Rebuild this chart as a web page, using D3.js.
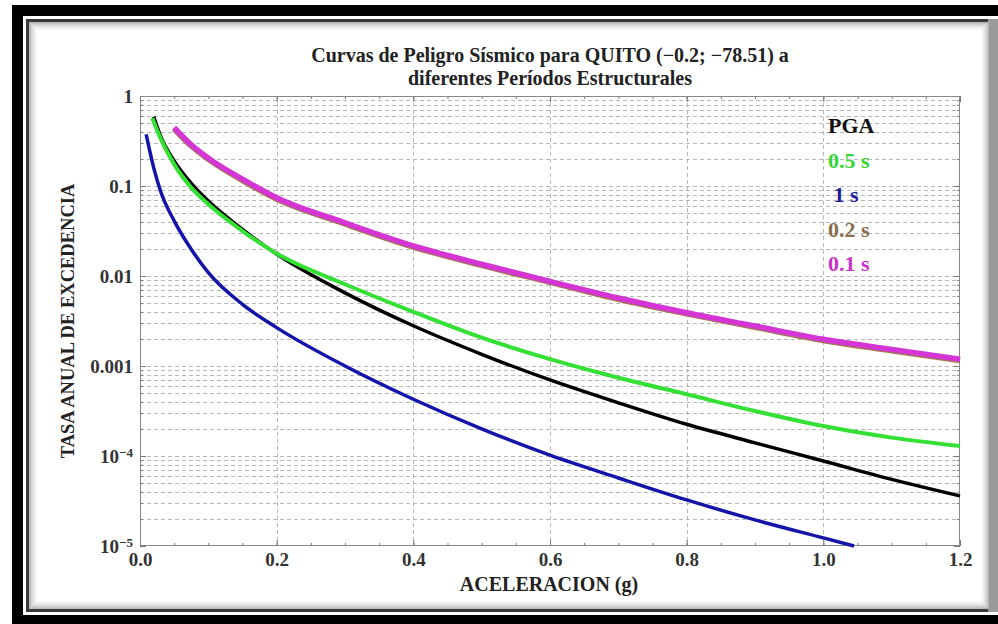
<!DOCTYPE html>
<html>
<head>
<meta charset="utf-8">
<script src="https://cdn.jsdelivr.net/npm/d3@7"></script>
<style>
	body { margin: 0; background: #fff; }
	svg { display: block; }
	text { font-family: "Liberation Serif", "Times New Roman", serif; font-weight: bold; }
	.axis path.domain { display: none; }
	.axis line { stroke: #777; }
	.axis text { fill: #333; font-size: 19px; }
</style>
</head>
<body>
<div id="chart"></div>
<script>
// Curves (aceleracion in g, tasa anual)
var pgaX = [0.02, 0.03, 0.05, 0.075, 0.1, 0.15, 0.2, 0.3, 0.4, 0.5, 0.6, 0.7, 0.8, 0.9, 1.0, 1.1, 1.2];
var pgaY = [0.59, 0.36, 0.19, 0.107, 0.068, 0.033, 0.0175, 0.0065, 0.0028, 0.00135, 0.0007, 0.00039, 0.000225, 0.00014, 0.000088, 0.000055, 0.000036];

var t05X = [0.018, 0.03, 0.05, 0.075, 0.1, 0.15, 0.2, 0.3, 0.4, 0.5, 0.6, 0.7, 0.8, 0.9, 1.0, 1.1, 1.2];
var t05Y = [0.57, 0.34, 0.174, 0.096, 0.0626, 0.0316, 0.0178, 0.0081, 0.004, 0.00207, 0.00119, 0.00074, 0.000485, 0.000316, 0.000215, 0.00016, 0.000129];

var t1X = [0.009, 0.02, 0.03, 0.05, 0.075, 0.1, 0.15, 0.2, 0.3, 0.4, 0.5, 0.6, 0.7, 0.8, 0.9, 1.0, 1.045];
var t1Y = [0.375, 0.16, 0.088, 0.041, 0.0198, 0.0109, 0.00484, 0.00267, 0.001, 0.000427, 0.0002, 0.000102, 0.000057, 0.0000325, 0.0000195, 0.0000123, 0.00001];

var t02X = [0.05, 0.075, 0.1, 0.15, 0.2, 0.3, 0.4, 0.5, 0.6, 0.7, 0.8, 0.9, 1.0, 1.1, 1.2];
var t02Y = [0.43, 0.278, 0.198, 0.115, 0.0715, 0.0378, 0.021, 0.0131, 0.0085, 0.0055, 0.0038, 0.0027, 0.00192, 0.00148, 0.00115];

var t01X = [0.05, 0.075, 0.1, 0.15, 0.2, 0.3, 0.4, 0.5, 0.6, 0.7, 0.8, 0.9, 1.0, 1.1, 1.2];
var t01Y = [0.445, 0.287, 0.204, 0.119, 0.074, 0.039, 0.0216, 0.0135, 0.0087, 0.0057, 0.0039, 0.00278, 0.00198, 0.00153, 0.00119];

// Ticks and labels
var xTicks = [0, 0.2, 0.4, 0.6, 0.8, 1.0, 1.2];
var xTickLabels = ["0.0", "0.2", "0.4", "0.6", "0.8", "1.0", "1.2"];
var yTicks = [1, 0.1, 0.01, 0.001, 1e-4, 1e-5];
var yTickLabels = ["1", "0.1", "0.01", "0.001", "10^\u22124", "10^\u22125"];

var legendNames = ["PGA", "0.5 s", " 1 s", "0.2 s", "0.1 s"];
var legendColors = ["#111111", "#33d633", "#1c1c9c", "#8a6e4e", "#c832c8"];

var titleLines = ["Curvas de Peligro S\u00edsmico para QUITO (\u22120.2; \u221278.51) a", "diferentes Per\u00edodos Estructurales"];

var W = 998, H = 624;
// plot box (note: "top" is reserved on window, so use p* names)
var pLeft = 140, pRight = 960, pTop = 96, pBottom = 546;

var svg = d3.select("#chart")
	.append("svg")
	.attr("width", W)
	.attr("height", H);

// Frame: black band, thin white line, dark line, shaded panel
svg.append("rect").attr("x", 12).attr("y", 5).attr("width", W - 12).attr("height", H - 5).attr("fill", "#000");
svg.append("rect").attr("x", 23).attr("y", 16).attr("width", W - 23).attr("height", 599).attr("fill", "#fff");
svg.append("rect").attr("x", 26).attr("y", 19).attr("width", W - 26).attr("height", 593).attr("fill", "#3a3a3a");
svg.append("rect").attr("x", 988).attr("y", 19).attr("width", 10).attr("height", 593).attr("fill", "#9a9a9a");
svg.append("rect").attr("x", 29).attr("y", 22).attr("width", 960).attr("height", 587).attr("fill", "#fff");
for (var i = 0; i < 10; i++) {
	svg.append("rect")
		.attr("x", 29 + i + 0.5).attr("y", 22 + i + 0.5)
		.attr("width", 960 - 2 * i - 1).attr("height", 587 - 2 * i - 1)
		.attr("fill", "none")
		.attr("stroke", "#000")
		.attr("stroke-opacity", 0.28 * Math.pow(1 - i / 10, 2));
}

// Scales
var x = d3.scaleLinear().domain([0, 1.2]).range([pLeft, pRight]);
var y = d3.scaleLog().domain([1e-5, 1]).range([pBottom, pTop]);

// Grid
var grid = svg.append("g").attr("stroke", "#b8b8b8").attr("stroke-dasharray", "4,3").attr("stroke-width", 1);
grid.selectAll(".h")
	.data(y.ticks().filter(function(d) { return d > 1e-5 && d < 1; }))
	.enter().append("line")
	.attr("x1", pLeft).attr("x2", pRight)
	.attr("y1", function(d) { return Math.round(y(d)) + 0.5; })
	.attr("y2", function(d) { return Math.round(y(d)) + 0.5; });
grid.selectAll(".v")
	.data(xTicks.slice(1, -1))
	.enter().append("line")
	.attr("y1", pTop).attr("y2", pBottom)
	.attr("x1", function(d) { return Math.round(x(d)) + 0.5; })
	.attr("x2", function(d) { return Math.round(x(d)) + 0.5; });

// Axes (ticks pointing in)
var minorX = d3.range(0, 25).map(function(i) { return i * 0.05; });

svg.append("g").attr("class", "axis")
	.attr("transform", "translate(0," + pBottom + ")")
	.call(d3.axisBottom(x).tickValues(minorX).tickSize(-3).tickFormat(""));
svg.append("g").attr("class", "axis")
	.attr("transform", "translate(0," + pBottom + ")")
	.call(d3.axisBottom(x).tickValues(xTicks).tickSize(-6).tickPadding(7)
		.tickFormat(function(d, i) { return xTickLabels[i]; }));
svg.append("g").attr("class", "axis")
	.attr("transform", "translate(0," + pTop + ")")
	.call(d3.axisTop(x).tickValues(minorX).tickSize(-3).tickFormat(""));
svg.append("g").attr("class", "axis")
	.attr("transform", "translate(0," + pTop + ")")
	.call(d3.axisTop(x).tickValues(xTicks).tickSize(-6).tickFormat(""));

svg.append("g").attr("class", "axis")
	.attr("transform", "translate(" + pLeft + ",0)")
	.call(d3.axisLeft(y).tickValues(y.ticks()).tickSize(-3).tickFormat(""));
var yAxisG = svg.append("g").attr("class", "axis")
	.attr("transform", "translate(" + pLeft + ",0)")
	.call(d3.axisLeft(y).tickValues(yTicks).tickSize(-6).tickPadding(7)
		.tickFormat(function(d, i) { return yTickLabels[i]; }));
svg.append("g").attr("class", "axis")
	.attr("transform", "translate(" + pRight + ",0)")
	.call(d3.axisRight(y).tickValues(y.ticks()).tickSize(-3).tickFormat(""));
svg.append("g").attr("class", "axis")
	.attr("transform", "translate(" + pRight + ",0)")
	.call(d3.axisRight(y).tickValues(yTicks).tickSize(-6).tickFormat(""));

// power-of-ten labels get a superscript
yAxisG.selectAll(".tick text").each(function() {
	var t = d3.select(this), s = t.text();
	if (s.indexOf("^") < 0) return;
	var parts = s.split("^");
	t.text(null);
	t.append("tspan").text(parts[0]);
	t.append("tspan").attr("dy", "-0.45em").attr("font-size", "13px").text(parts[1]);
});

// Plot frame
svg.append("rect")
	.attr("x", pLeft + 0.5).attr("y", pTop + 0.5)
	.attr("width", pRight - pLeft - 1).attr("height", pBottom - pTop - 1)
	.attr("fill", "none").attr("stroke", "#888");

// Curves
var line = d3.line()
	.x(function(d) { return x(d[0]); })
	.y(function(d) { return y(d[1]); })
	.curve(d3.curveMonotoneX);

var curves = [
	{ xs: t02X, ys: t02Y, color: "#a07a4e", width: 5.5 },
	{ xs: t01X, ys: t01Y, color: "#d435d4", width: 5.5 },
	{ xs: pgaX, ys: pgaY, color: "#000000", width: 3.5 },
	{ xs: t05X, ys: t05Y, color: "#33e033", width: 4 },
	{ xs: t1X, ys: t1Y, color: "#1414aa", width: 3.5 }
];
curves.forEach(function(c) {
	svg.append("path")
		.attr("d", line(d3.zip(c.xs, c.ys)))
		.attr("fill", "none")
		.attr("stroke", c.color)
		.attr("stroke-width", c.width)
		.attr("stroke-linejoin", "round");
});

// Legend
svg.selectAll(".legend")
	.data(legendNames)
	.enter().append("text")
	.attr("x", 828)
	.attr("y", function(d, i) { return 133 + i * 34.5; })
	.attr("xml:space", "preserve")
	.attr("font-size", "22px")
	.attr("fill", function(d, i) { return legendColors[i]; })
	.text(function(d) { return d; });

// Title and axis labels
svg.selectAll(".title")
	.data(titleLines)
	.enter().append("text")
	.attr("x", (pLeft + pRight) / 2)
	.attr("y", function(d, i) { return 62 + i * 23; })
	.attr("text-anchor", "middle")
	.attr("font-size", "20px")
	.attr("fill", "#222")
	.text(function(d) { return d; });

svg.append("text")
	.attr("x", (pLeft + pRight) / 2 - 1)
	.attr("y", 591)
	.attr("text-anchor", "middle")
	.attr("font-size", "20px")
	.attr("fill", "#222")
	.text("ACELERACION (g)");

svg.append("text")
	.attr("transform", "translate(74,321) rotate(-90)")
	.attr("text-anchor", "middle")
	.attr("font-size", "18.5px")
	.attr("fill", "#222")
	.text("TASA ANUAL DE EXCEDENCIA");
</script>
</body>
</html>
